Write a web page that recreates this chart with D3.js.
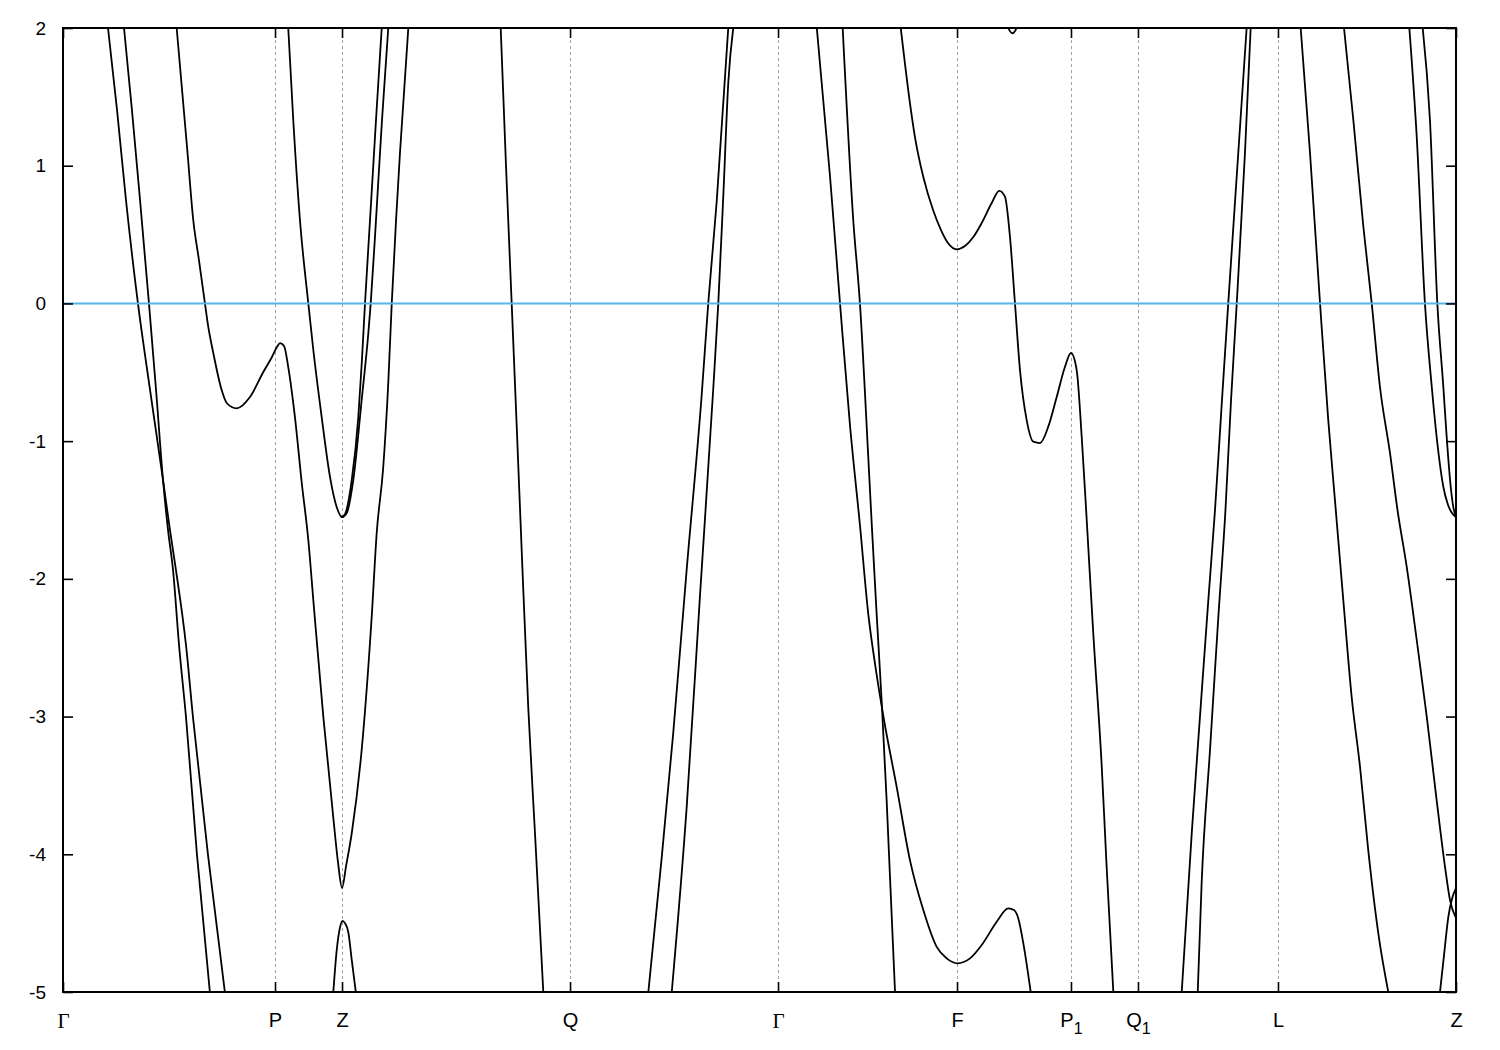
<!DOCTYPE html>
<html>
<head>
<meta charset="utf-8">
<script src="https://cdn.jsdelivr.net/npm/d3@7"></script>
<style>
  body { margin: 0; background: #fff; }
  text { font-family: "Liberation Sans", Arial, sans-serif; fill: #000; }
</style>
</head>
<body>
<svg id="chart" width="1500" height="1050"></svg>
<script>
// ---- data ----
const kLabels = ["Γ", "P", "Z", "Q", "Γ", "F", "P_1", "Q_1", "L", "Z"];
const kTicks  = [0, 0.1522, 0.2003, 0.3640, 0.5133, 0.6418, 0.7236, 0.7717, 0.8722, 1];
const eTicks  = [2, 1, 0, -1, -2, -3, -4, -5];
const eFermi  = 0;

const bandA = [[0.0323,2.0],[0.0388,1.404],[0.0452,0.751],[0.0538,0],[0.0625,-0.629],[0.0718,-1.282],[0.0768,-1.646],[0.0811,-1.936],[0.0883,-2.481],[0.0933,-3.004],[0.1041,-4.006],[0.1163,-5.008]];
const bandB = [[0.0438,2.0],[0.0495,1.404],[0.0553,0.751],[0.0617,0],[0.0668,-0.629],[0.0718,-1.282],[0.0754,-1.646],[0.0790,-1.936],[0.0833,-2.481],[0.0883,-3.004],[0.0962,-4.006],[0.1055,-5.008]];
const bandC = [[0.0816,2.0],[0.0894,1.092],[0.0935,0.606],[0.0976,0.315],[0.1019,0],[0.1043,-0.171],[0.1079,-0.360],[0.1139,-0.629],[0.1175,-0.723],[0.1247,-0.762],[0.1342,-0.680],[0.1438,-0.498],[0.1500,-0.389],[0.1536,-0.317],[0.1558,-0.288],[0.1587,-0.309],[0.1617,-0.462],[0.1665,-0.825],[0.1714,-1.304],[0.1761,-1.718],[0.1797,-2.154],[0.1869,-3.004],[0.1940,-3.730],[0.1974,-4.057],[0.2003,-4.245],[0.2032,-4.086],[0.2073,-3.846],[0.2144,-3.243],[0.2216,-2.277],[0.2252,-1.667],[0.2299,-1.188],[0.2335,-0.578],[0.2360,0],[0.2391,0.606],[0.2419,1.092],[0.2479,2.0]];
const bandD = [[0.1617,2.0],[0.1653,1.332],[0.1701,0.606],[0.1761,0],[0.1797,-0.338],[0.1857,-0.825],[0.1917,-1.261],[0.1965,-1.479],[0.2003,-1.551],[0.2028,-1.522],[0.2073,-1.282],[0.2120,-0.825],[0.2146,-0.411],[0.2168,0],[0.2204,0.606],[0.2247,1.332],[0.2288,2.0]];
const bandE = [[0.1990,-1.540],[0.2003,-1.551],[0.2037,-1.522],[0.2084,-1.282],[0.2144,-0.702],[0.2192,-0.215],[0.2209,0],[0.2247,0.606],[0.2290,1.332],[0.2335,2.0]];
const bandF = [[0.1940,-5.008],[0.1965,-4.696],[0.1989,-4.529],[0.2006,-4.483],[0.2024,-4.500],[0.2048,-4.565],[0.2073,-4.768],[0.2103,-5.008]];
const bandG = [[0.3142,2.004],[0.3180,1.005],[0.3221,0],[0.3257,-0.890],[0.3293,-1.798],[0.3340,-2.935],[0.3388,-3.842],[0.3448,-5.001]];
const bandH = [[0.4202,-5.001],[0.4298,-4.024],[0.4381,-3.116],[0.4477,-1.936],[0.4585,-0.665],[0.4632,0],[0.4693,0.744],[0.4776,2.004]];
const bandI = [[0.4370,-5.001],[0.4477,-3.661],[0.4573,-2.118],[0.4668,-0.620],[0.4704,0],[0.4742,0.824],[0.4776,1.604],[0.4812,2.004]];
const bandJ = [[0.5411,2.004],[0.5506,0.925],[0.5578,0],[0.5650,-0.890],[0.5721,-1.609],[0.5781,-2.256],[0.5836,-2.662],[0.5894,-3.025],[0.5985,-3.512],[0.6080,-4.042],[0.6176,-4.405],[0.6272,-4.672],[0.6344,-4.756],[0.6420,-4.792],[0.6511,-4.756],[0.6595,-4.659],[0.6703,-4.490],[0.6786,-4.393],[0.6827,-4.405],[0.6858,-4.466],[0.6894,-4.647],[0.6947,-5.001]];
const bandK = [[0.5597,2.004],[0.5673,0.606],[0.5721,0],[0.5781,-1.119],[0.5808,-1.646],[0.5841,-2.256],[0.5877,-2.887],[0.5913,-3.614],[0.5973,-5.001]];
const bandL = [[0.6014,2.0],[0.6080,1.455],[0.6116,1.208],[0.6176,0.918],[0.6246,0.678],[0.6303,0.533],[0.6353,0.439],[0.6416,0.393],[0.6475,0.417],[0.6535,0.482],[0.6595,0.584],[0.6667,0.729],[0.6721,0.818],[0.6762,0.775],[0.6798,0.484],[0.6834,0],[0.6870,-0.484],[0.6918,-0.847],[0.6966,-1.004],[0.7014,-1.014],[0.7073,-0.895],[0.7134,-0.678],[0.7193,-0.460],[0.7236,-0.360],[0.7277,-0.484],[0.7313,-0.968],[0.7349,-1.573],[0.7396,-2.394],[0.7457,-3.365],[0.7492,-4.091],[0.7540,-4.999]];
const bandM = [[0.6770,2.044],[0.6786,2.0],[0.6815,1.962],[0.6846,2.0],[0.6863,2.044]];
const bandN = [[0.8031,-5.001],[0.8103,-3.846],[0.8162,-3.001],[0.8222,-2.154],[0.8270,-1.500],[0.8320,-0.702],[0.8365,0],[0.8437,1.092],[0.8497,2.0]];
const bandO = [[0.8146,-5.001],[0.8174,-4.209],[0.8234,-3.243],[0.8294,-2.275],[0.8345,-1.500],[0.8385,-0.702],[0.8426,0],[0.8485,1.092],[0.8526,2.0]];
const bandP = [[0.8885,2.0],[0.8952,1.092],[0.9024,0],[0.9083,-0.847],[0.9131,-1.428],[0.9191,-2.154],[0.9251,-2.858],[0.9311,-3.365],[0.9370,-3.970],[0.9442,-4.572],[0.9514,-5.001]];
const bandQ = [[0.9196,2.0],[0.9263,1.332],[0.9335,0.557],[0.9395,0],[0.9454,-0.605],[0.9526,-1.086],[0.9580,-1.500],[0.9646,-1.912],[0.9718,-2.444],[0.9790,-3.001],[0.9861,-3.606],[0.9921,-4.091],[0.9957,-4.333],[1.0,-4.463]];
const bandR = [[0.9885,-5.001],[0.9914,-4.732],[0.9945,-4.454],[0.9975,-4.311],[1.0,-4.245]];
const bandS = [[0.9665,2.0],[0.9718,1.211],[0.9777,0],[0.9826,-0.605],[0.9861,-0.968],[0.9909,-1.331],[0.9943,-1.464],[0.9971,-1.522],[1.0,-1.551]];
const bandT = [[0.9761,2.0],[0.9813,1.332],[0.9866,0],[0.9909,-0.605],[0.9933,-0.968],[0.9962,-1.331],[0.9982,-1.486],[1.0,-1.551]];

const bands = [bandA, bandB, bandC, bandD, bandE, bandF, bandG, bandH, bandI, bandJ,
               bandK, bandL, bandM, bandN, bandO, bandP, bandQ, bandR, bandS, bandT];

// ---- layout ----
const L = 63, R = 1456, T = 28, B = 992;
const svg = d3.select("#chart");
svg.append("rect").attr("width", 1500).attr("height", 1050).attr("fill", "#fff");

const x = d3.scaleLinear().domain([0, 1]).range([L, R]);
const y = d3.scaleLinear().domain([-5, 2]).range([B, T]);

svg.append("clipPath").attr("id", "plotclip")
  .append("rect").attr("x", L).attr("y", T).attr("width", R - L).attr("height", B - T);

// dashed vertical lines at high-symmetry points
svg.append("g").selectAll("line")
  .data(kTicks.slice(1, -1))
  .join("line")
  .attr("x1", d => Math.round(x(d)) + 0.5).attr("x2", d => Math.round(x(d)) + 0.5)
  .attr("y1", T).attr("y2", B)
  .attr("stroke", "#a0a0a0").attr("stroke-width", 1)
  .attr("stroke-dasharray", "3,3");

// bands
const line = d3.line().x(d => x(d[0])).y(d => y(d[1])).curve(d3.curveMonotoneX);
svg.append("g").attr("clip-path", "url(#plotclip)")
  .selectAll("path").data(bands).join("path")
  .attr("d", line)
  .attr("fill", "none").attr("stroke", "#000").attr("stroke-width", 1.8)
  .attr("stroke-linejoin", "round");

// Fermi level
svg.append("line")
  .attr("x1", L).attr("x2", R).attr("y1", y(eFermi)).attr("y2", y(eFermi))
  .attr("stroke", "#56b4e9").attr("stroke-width", 2);

// axes
function styleAxis(g) {
  g.select(".domain").remove();
  g.selectAll(".tick line").attr("stroke", "#000").attr("stroke-width", 1.6);
}
const gLeft = svg.append("g").attr("transform", `translate(${L},0)`)
  .call(d3.axisLeft(y).tickValues(eTicks).tickSizeInner(-10).tickSizeOuter(0)
        .tickPadding(17).tickFormat(d => String(d)));
styleAxis(gLeft);
gLeft.selectAll("text").style("font-size", "19px");

const gRight = svg.append("g").attr("transform", `translate(${R},0)`)
  .call(d3.axisRight(y).tickValues(eTicks).tickSizeInner(-10).tickSizeOuter(0).tickFormat(""));
styleAxis(gRight);

const gTop = svg.append("g").attr("transform", `translate(0,${T})`)
  .call(d3.axisTop(x).tickValues(kTicks).tickSizeInner(-10).tickSizeOuter(0).tickFormat(""));
styleAxis(gTop);

const gBottom = svg.append("g").attr("transform", `translate(0,${B})`)
  .call(d3.axisBottom(x).tickValues(kTicks).tickSizeInner(-10).tickSizeOuter(0)
        .tickPadding(21).tickFormat((d, i) => kLabels[i]));
styleAxis(gBottom);
gBottom.selectAll("text").each(function(d, i) {
  const t = d3.select(this);
  const lab = kLabels[i];
  t.style("font-size", "20px");
  if (lab === "Γ") {
    t.style("font-family", "'Liberation Serif', 'DejaVu Serif', serif").style("font-size", "21px");
  }
  if (lab.includes("_")) {
    const [base, sub] = lab.split("_");
    t.text(null);
    t.append("tspan").text(base);
    t.append("tspan").text(sub).attr("dy", 6.5).style("font-size", "16px");
  }
});

// frame
svg.append("rect")
  .attr("x", L).attr("y", T).attr("width", R - L).attr("height", B - T)
  .attr("fill", "none").attr("stroke", "#000").attr("stroke-width", 2);
</script>
</body>
</html>
